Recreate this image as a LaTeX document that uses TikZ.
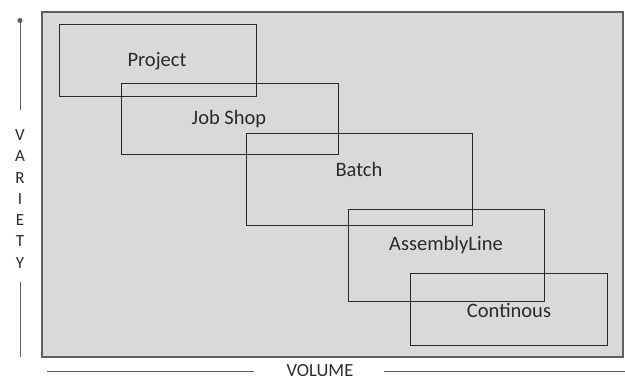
\documentclass[tikz,border=0pt]{standalone}
\usepackage{fontspec}
\setmainfont{Carlito}
\usetikzlibrary{arrows.meta}
\definecolor{panelgray}{HTML}{D9D9D9}
\definecolor{inkgray}{HTML}{2A2A2A}
\tikzset{
  panel/.style={fill=panelgray, draw=inkgray!75, line width=1.4pt},
  stagebox/.style={draw=inkgray, line width=0.9pt},
  stagelabel/.style={text=inkgray, font=\fontsize{20.5}{20.5}\selectfont},
  axisline/.style={draw=inkgray!75, line width=0.9pt},
  axislabel/.style={text=inkgray, font=\fontsize{18.5}{18.5}\selectfont}
}
\begin{document}
\begin{tikzpicture}[x=1pt, y=-1pt]
  \useasboundingbox (0,0) rectangle (625,380);
  % Background panel
  \draw[panel] (42,12) rectangle (623,357);

  % Process type boxes
  \draw[stagebox] (59,24) rectangle (256,96);
  \draw[stagebox] (121,83) rectangle (338,154);
  \draw[stagebox] (246,133) rectangle (472,225);
  \draw[stagebox] (348,209) rectangle (544,301);
  \draw[stagebox] (410,273) rectangle (607,345);

  \node[stagelabel] (project) at (157,61) {Project};
  \node[stagelabel] (jobshop) at (229,119) {Job Shop};
  \node[stagelabel] (batch) at (359,169) {Batch};
  \node[stagelabel] (assembly) at (446,245) {AssemblyLine};
  \node[stagelabel] (continous) at (509,310) {Continous};

  % Variety axis
  \coordinate (vtop) at (20,18);
  \coordinate (vmid) at (20,110);
  \coordinate (vlow) at (20,282);
  \coordinate (vbot) at (20,357);
  \draw[axisline, {Circle[length=5pt]}-] (vtop) -- (vmid);
  \draw[axisline] (vlow) -- (vbot);
  \foreach \ch [count=\i from 0] in {V,A,R,I,E,T,Y}
    \node[axislabel, font=\fontsize{17}{17}\selectfont] (var\i) at (20,{135+21.3*\i}) {\ch};

  % Volume axis
  \node[axislabel, inner sep=0pt, anchor=base] (volume) at (320,376) {VOLUME};
  \coordinate (hleft) at (47,371);
  \coordinate (hlmid) at (254,371);
  \coordinate (hrmid) at (384,371);
  \coordinate (hright) at (625,371);
  \draw[axisline] (hleft) -- (hlmid);
  \draw[axisline] (hrmid) -- (hright);
\end{tikzpicture}
\end{document}
